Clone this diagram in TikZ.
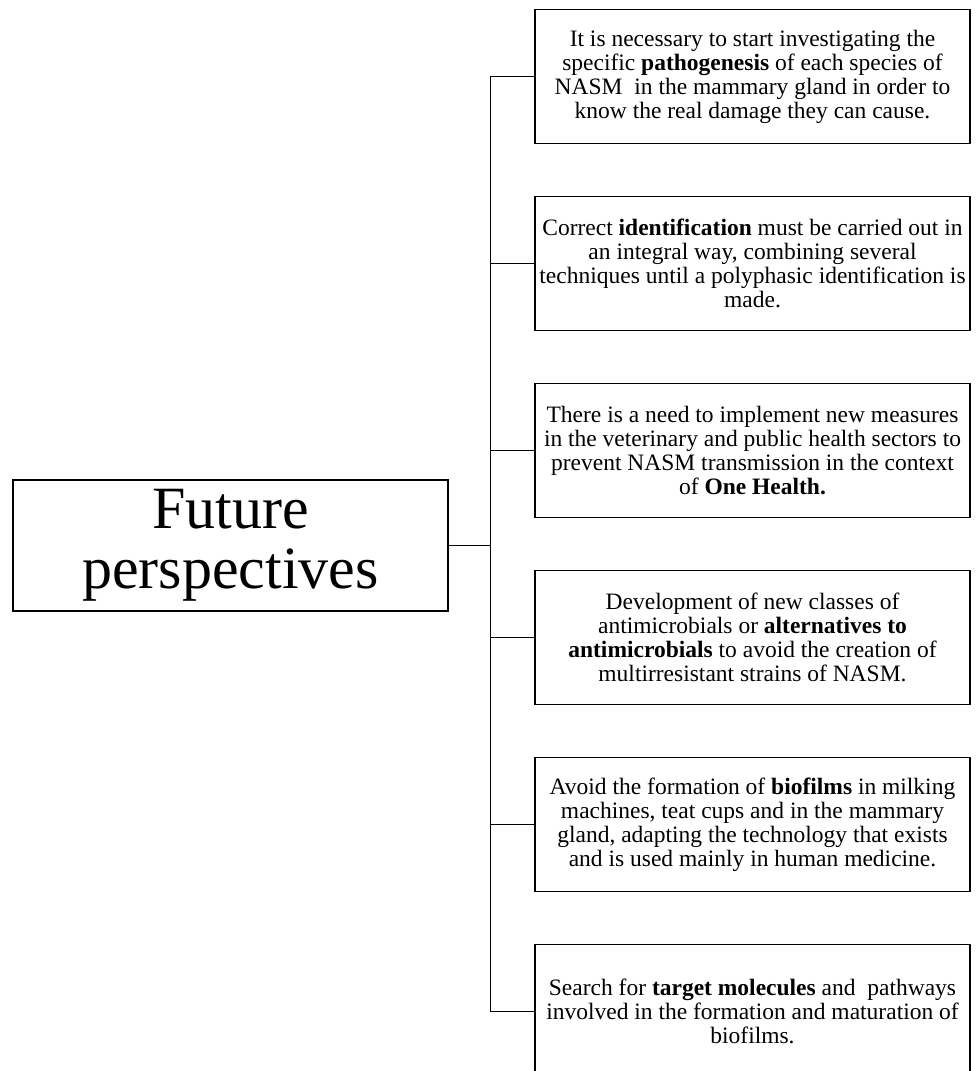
\documentclass[tikz,border=0pt]{standalone}
\usepackage{fontspec}
\setmainfont{Liberation Serif}
\usetikzlibrary{positioning}
\usetikzlibrary{chains}

\begin{document}
\begin{tikzpicture} [
   x=1pt, y=1pt,
   start chain=going below,    % boxes stacked top-to-bottom
   node distance=51.6pt,       % gap between the boxes
   ]
% -------------------------------------------------
\tikzset{
  base/.style={draw, line width=1.4pt, align=center, inner sep=2pt},
  rect/.style={base, on chain, rectangle, minimum width=435pt, minimum height=134pt, font=\fontsize{23.5}{24}\selectfont},
  title/.style={base, rectangle, minimum width=435pt, minimum height=131pt, font=\fontsize{60}{60}\selectfont},
  line/.style={draw, line width=1.4pt}
}

    \useasboundingbox (0,0) rectangle (977,-1071);
    \clip (0,0) rectangle (977,-1071);

    \node [title] (fut) at (230.5,-545.5) {Future\\perspectives};

    \node [rect] (pat) at (752.5,-76.5) {It is necessary to start investigating the\\ specific \textbf{pathogenesis} of each species of\\ NASM\ \ in the mammary gland in order to\\ know the real damage they can cause.};
    \node [rect] (idf) {Correct \textbf{identification} must be carried out in\\ an integral way, combining several\\ techniques until a polyphasic identification is\\ made.};
    \node [rect] (ohl) {There is a need to implement new measures\\ in the veterinary and public health sectors to\\ prevent NASM transmission in the context\\ of \textbf{One Health.}};
    \node [rect] (amc) {Development of new classes of\\ antimicrobials or \textbf{alternatives to}\\ \textbf{antimicrobials} to avoid the creation of\\ multirresistant strains of NASM.};
    \node [rect] (bio) {Avoid the formation of \textbf{biofilms} in milking\\ machines, teat cups and in the mammary\\ gland, adapting the technology that exists\\ and is used mainly in human medicine.};
    \node [rect] (trg) {Search for \textbf{target molecules} and\ \ pathways\\ involved in the formation and maturation of\\ biofilms.};

    \coordinate (jn) at ([xshift=42pt]fut.east);      % junction on the trunk

    \path [line] (fut.east) -- (jn);
    \path [line] (jn) |- (pat.west);
    \path [line] (jn) |- (idf.west);
    \path [line] (jn) |- (ohl.west);
    \path [line] (jn) |- (amc.west);
    \path [line] (jn) |- (bio.west);
    \path [line] (jn) |- (trg.west);

\end{tikzpicture}
\end{document}
